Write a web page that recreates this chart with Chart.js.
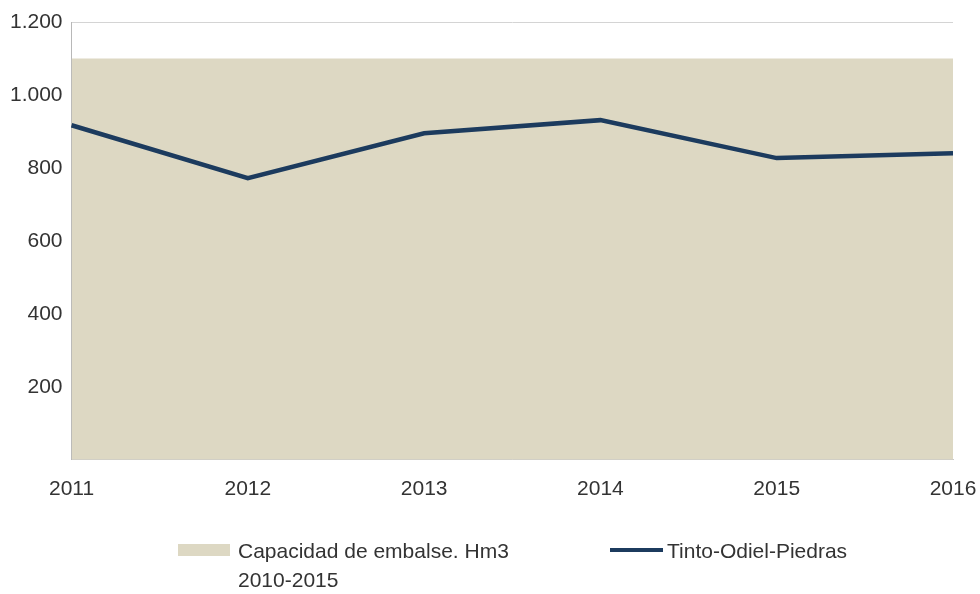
<!DOCTYPE html>
<html>
<head>
<meta charset="utf-8">
<script src="https://cdn.jsdelivr.net/npm/chart.js@4"></script>
<style>
  html, body { margin: 0; padding: 0; background: #fff; }
  #wrap { position: relative; width: 980px; height: 594px; }
  #legend { position: absolute; top: 536px; left: 0; width: 980px; font-family: "Liberation Sans", Arial, sans-serif; font-size: 21px; color: #333; }
  .item { position: absolute; display: flex; align-items: flex-start; line-height: 29px; }
  .box { width: 52px; height: 12px; margin-top: 8px; margin-right: 8px; }
  .line { width: 53px; height: 4px; margin-top: 12px; margin-right: 4px; }
</style>
</head>
<body>
<div id="wrap">
  <canvas id="chart" width="980" height="594"></canvas>
  <div id="legend"></div>
</div>
<script>
const years = ['2011', '2012', '2013', '2014', '2015', '2016']
const capacidad = [1100, 1100, 1100, 1100, 1100, 1100]
const tintoOdielPiedras = [917, 772, 895, 931, 827, 840]
const yTicks = [0, 200, 400, 600, 800, 1000, 1200]

const areaColor = '#ddd8c3'
const lineColor = '#1c3b5e'
const font = { family: '"Liberation Sans", Arial, sans-serif', size: 21 }

let datasets = [
    {
        label: ['Capacidad de embalse. Hm3', '2010-2015'],
        data: capacidad,
        backgroundColor: areaColor,
        borderWidth: 0,
        pointRadius: 0,
        fill: 'origin',
        order: 2
    },
    {
        label: 'Tinto-Odiel-Piedras',
        data: tintoOdielPiedras,
        borderColor: lineColor,
        borderWidth: 4.5,
        pointRadius: 0,
        tension: 0,
        fill: false,
        order: 1
    }
]

var ctx = document.getElementById('chart').getContext('2d')
var chart = new Chart(ctx, {
    type: 'line',
    data: { labels: years, datasets: datasets },
    options: {
        responsive: false,
        animation: false,
        layout: { padding: { top: 22, left: 1, right: 27, bottom: 83 } },
        plugins: { legend: { display: false }, tooltip: { enabled: false } },
        scales: {
            x: {
                offset: false,
                grid: { display: false },
                border: { display: true, color: '#c8c8c8', width: 1 },
                ticks: { color: '#333', font: font, padding: 9, maxRotation: 0, autoSkip: false },
                // let the last label run into the right padding, like the original
                afterFit: function(scale) {
                    scale.paddingLeft = 0
                    scale.paddingRight = 0
                }
            },
            y: {
                min: 0,
                max: 1200,
                afterBuildTicks: function(axis) {
                    axis.ticks = yTicks.map(function(v) { return { value: v } })
                },
                grid: { color: '#d4d4d4', drawTicks: false },
                border: { display: true, color: '#b8b8b8', width: 1 },
                ticks: {
                    color: '#333',
                    font: font,
                    padding: 9,
                    callback: function(value) {
                        if (value === 0) return ''
                        return value.toLocaleString('de-DE')
                    }
                }
            }
        }
    }
})

// legend built from the chart datasets
var legend = document.getElementById('legend')
var lefts = [178, 610]
chart.data.datasets.forEach(function(ds, i) {
    var item = document.createElement('div')
    item.className = 'item'
    item.style.left = lefts[i] + 'px'
    var mark = document.createElement('div')
    if (ds.fill) {
        mark.className = 'box'
        mark.style.background = ds.backgroundColor
    } else {
        mark.className = 'line'
        mark.style.background = ds.borderColor
    }
    var text = document.createElement('div')
    text.innerHTML = [].concat(ds.label).join('<br>')
    item.appendChild(mark)
    item.appendChild(text)
    legend.appendChild(item)
})
</script>
</body>
</html>
